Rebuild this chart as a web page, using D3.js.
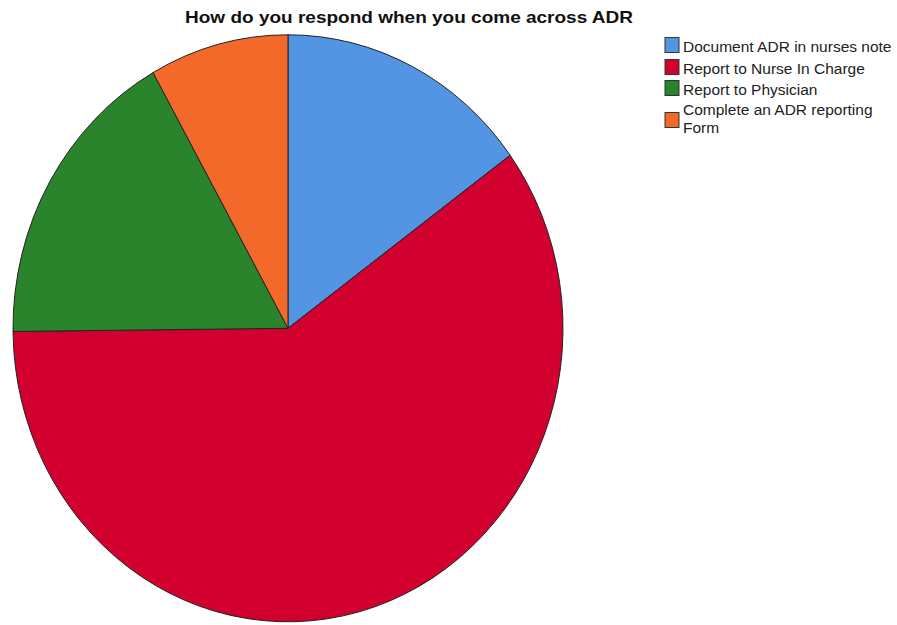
<!DOCTYPE html>
<html><head><meta charset="utf-8">
<script src="https://cdn.jsdelivr.net/npm/d3@7"></script>
<style>body{margin:0;background:#fff}</style>
</head><body>
<svg id="c" width="897" height="625"></svg>
<script>
const title = "How do you respond when you come across ADR";
const categories = ["Document ADR in nurses note","Report to Nurse In Charge","Report to Physician","Complete an ADR reporting Form"];
const values = [22, 88, 25, 12];
const colors = ["#5395e3","#d2002f","#2a842b","#f2692a"];

const svg = d3.select("#c");
const cx = 288, cy = 328.3, rx = 275, ry = 293.5;

svg.append("text").attr("x", 185).attr("y", 23)
  .attr("font-family","Liberation Sans, Arial, sans-serif").attr("font-weight","bold")
  .attr("font-size",16.5).attr("textLength",448).attr("lengthAdjust","spacingAndGlyphs")
  .attr("fill","#111").text(title);

const pie = d3.pie().sort(null).value(d => d)(values);
const arc = d3.arc().innerRadius(0).outerRadius(rx);
const g = svg.append("g").attr("transform", `translate(${cx},${cy}) scale(1,${ry/rx})`);
g.selectAll("path").data(pie).join("path")
  .attr("d", arc).attr("fill", (d,i) => colors[i])
  .attr("stroke","#222").attr("stroke-width",1).attr("vector-effect","non-scaling-stroke");

const legendLines = [["Document ADR in nurses note"],["Report to Nurse In Charge"],["Report to Physician"],["Complete an ADR reporting","Form"]];
const rowY = [45, 67, 88, 120];
const lg = svg.append("g");
categories.forEach((c,i) => {
  lg.append("rect").attr("x",665).attr("y",rowY[i]-7.5).attr("width",14).attr("height",15)
    .attr("fill",colors[i]).attr("stroke","#333").attr("stroke-width",1);
  const lines = legendLines[i];
  const y0 = lines.length === 1 ? rowY[i] + 6.5 : rowY[i] - 5;
  lines.forEach((ln,j) => {
    lg.append("text").attr("font-family","Liberation Sans, Arial, sans-serif")
      .attr("font-size",15.5).attr("fill","#222")
      .attr("x",683).attr("y", y0 + j*18).text(ln);
  });
});
</script>
</body></html>
